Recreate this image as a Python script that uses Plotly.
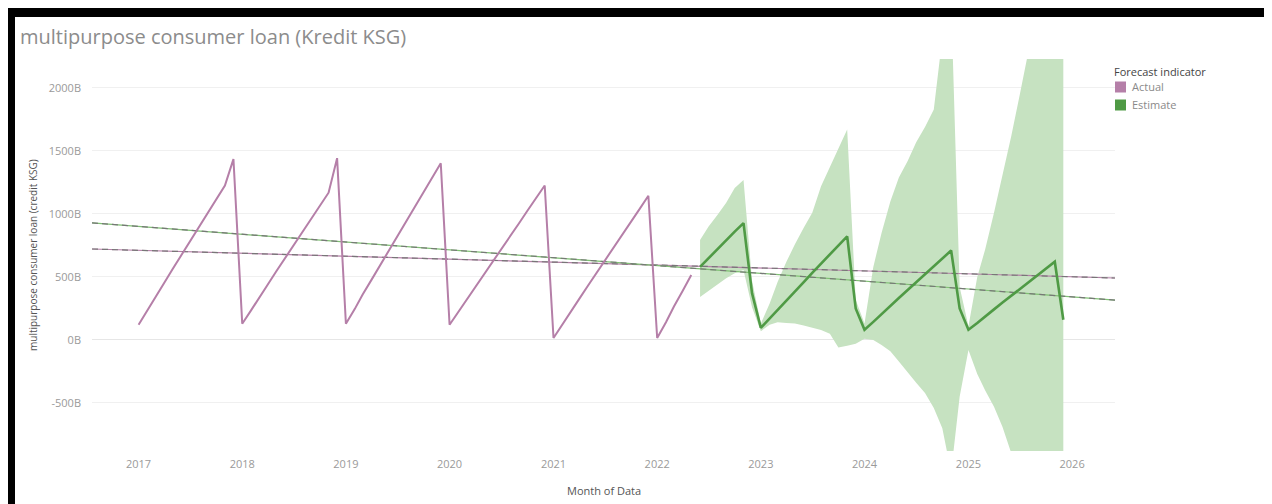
import pandas as pd
import plotly.graph_objects as go

# ---------------- data ----------------
actual_start = "2017-01-01"
actual_values = [
    121, 232, 342, 453, 563, 674, 784, 895, 1005, 1116, 1226, 1435,
    129, 235, 337, 441, 545, 650, 754, 858, 961, 1065, 1169, 1443,
    129, 245, 361, 477, 592, 708, 824, 940, 1056, 1171, 1287, 1403,
    121, 222, 322, 423, 523, 624, 724, 825, 925, 1026, 1126, 1226,
    16, 119, 221, 324, 427, 529, 632, 735, 837, 940, 1043, 1145,
    16, 141, 266, 391, 516,
]

estimate_start = "2022-06-01"
estimate_values = [
    580, 650, 720, 790, 860, 927, 370,
    97, 170, 243, 316, 388, 460, 533, 605, 678, 750, 823, 250,
    81, 144, 207, 270, 333, 396, 459, 522, 585, 648, 710, 250,
    81, 135, 189, 243, 297, 351, 405, 459, 513, 567, 621, 161,
]
estimate_upper = [
    794, 900, 992, 1090, 1206, 1270, 470,
    130, 290, 460, 620, 760, 890, 1010, 1220, 1370, 1510, 1670, 320,
    130, 580, 850, 1100, 1290, 1420, 1570, 1690, 1830, 2400, 2700, 420,
    110, 500, 720, 1010, 1310, 1620, 1950, 2300, 2500, 2700, 2850, 3000,
]
estimate_lower = [
    341, 390, 440, 490, 530, 555, 260,
    70, 120, 140, 135, 130, 115, 100, 80, 50, -60, -45, -30,
    10, 0, -40, -90, -170, -260, -340, -420, -540, -700, -1050, -450,
    -80, -270, -400, -530, -690, -900, -1000, -1100, -1200, -1300, -1400, -1500,
]

trend_dates = ["2016-07-21", "2026-06-01"]
trend_actual = [722, 492]
trend_estimate = [929, 317]

y_tick_values = [-500, 0, 500, 1000, 1500, 2000]
y_tick_labels = ["-500B", "0B", "500B", "1000B", "1500B", "2000B"]

series_names = ["Actual", "Estimate"]

# ---------------- styling ----------------
PURPLE = "#b57fa8"
GREEN = "#4f9a45"
BAND = "#c6e2c1"
FONT = "Open Sans"

actual_dates = pd.date_range(actual_start, periods=len(actual_values), freq="MS")
estimate_dates = pd.date_range(estimate_start, periods=len(estimate_values), freq="MS")

fig = go.Figure()

# forecast band
fig.add_trace(go.Scatter(x=estimate_dates, y=estimate_lower, mode="lines",
                         line=dict(width=0, color=BAND), showlegend=False, hoverinfo="skip"))
fig.add_trace(go.Scatter(x=estimate_dates, y=estimate_upper, mode="lines",
                         line=dict(width=0, color=BAND), fill="tonexty", fillcolor=BAND,
                         showlegend=False, hoverinfo="skip"))

# trend lines (coloured base + grey dashes)
for vals, col in [(trend_actual, PURPLE), (trend_estimate, "#7fc073")]:
    fig.add_trace(go.Scatter(x=trend_dates, y=vals, mode="lines",
                             line=dict(color=col, width=1.2), showlegend=False, hoverinfo="skip"))
    fig.add_trace(go.Scatter(x=trend_dates, y=vals, mode="lines",
                             line=dict(color="#777777", width=1.2, dash="6px,4px"),
                             showlegend=False, hoverinfo="skip"))

# main lines
fig.add_trace(go.Scatter(x=actual_dates, y=actual_values, mode="lines", name=series_names[0],
                         line=dict(color=PURPLE, width=2), showlegend=False))
fig.add_trace(go.Scatter(x=estimate_dates, y=estimate_values, mode="lines", name=series_names[1],
                         line=dict(color=GREEN, width=2.6), showlegend=False))

# page offset (browser body margin)
OFF = 8
W, H = 1264, 496
L, R, T, B = 84, 157, 51, 53
PW, PH = W - L - R, H - T - B


def px(page_x):
    return (page_x - OFF - L) / PW


def py(page_y):
    return (H - B - (page_y - OFF)) / PH


shapes = []
# black frame (page coords)
for x0, x1, y0, y1 in [(8, 15, 8, 504), (8, 1272, 8, 17), (1264, 1272, 8, 504)]:
    shapes.append(dict(type="rect", xref="paper", yref="paper",
                       x0=px(x0), x1=px(x1), y0=py(y1), y1=py(y0),
                       fillcolor="black", line=dict(width=0), layer="above"))

# legend swatches (manual, Tableau style)
legend_cols = [PURPLE, GREEN]
legend_rows = [87, 105]
annotations = [
    dict(text="Forecast indicator", xref="paper", yref="paper", x=px(1112), y=py(71),
         xanchor="left", yanchor="middle", showarrow=False,
         font=dict(size=11, color="#444444")),
]
for name, col, yy in zip(series_names, legend_cols, legend_rows):
    shapes.append(dict(type="rect", xref="paper", yref="paper",
                       x0=px(1115), x1=px(1126), y0=py(yy + 5.5), y1=py(yy - 5.5),
                       fillcolor=col, line=dict(width=0)))
    annotations.append(dict(text=name, xref="paper", yref="paper", x=px(1130), y=py(yy),
                            xanchor="left", yanchor="middle", showarrow=False,
                            font=dict(size=11, color="#8a8a8a")))

annotations += [
    dict(text="Month of Data", xref="paper", yref="paper", x=0.5, y=py(490),
         xanchor="center", yanchor="middle", showarrow=False,
         font=dict(size=11, color="#555555")),
    dict(text="multipurpose consumer loan (credit KSG)", xref="paper", yref="paper",
         x=px(33), y=0.5, xanchor="center", yanchor="middle", textangle=-90,
         showarrow=False, font=dict(size=10, color="#555555")),
]

fig.update_layout(
    width=W, height=H,
    margin=dict(l=L, r=R, t=T, b=B),
    paper_bgcolor="white", plot_bgcolor="white",
    font=dict(family=FONT, color="#888888", size=11),
    title=dict(text="multipurpose consumer loan (Kredit KSG)", x=(20 - OFF) / W, xanchor="left",
               y=1 - (37 - OFF) / H, yanchor="middle",
               font=dict(family=FONT, size=20, color="#8c8c8c")),
    showlegend=False,
    xaxis=dict(type="date", range=["2016-07-21", "2026-06-01"],
               tick0="2017-01-01", dtick="M12", tickformat="%Y",
               showgrid=False, zeroline=False, showline=False, ticks="",
               ticklabelstandoff=5, tickfont=dict(size=11, color="#9a9a9a")),
    yaxis=dict(range=[-881, 2230], tickvals=y_tick_values, ticktext=y_tick_labels,
               showgrid=True, gridcolor="#f0f0f0", gridwidth=1,
               zeroline=True, zerolinecolor="#e6e6e6", zerolinewidth=1,
               showline=False, ticks="", ticklabelstandoff=10,
               tickfont=dict(size=11, color="#9a9a9a")),
    shapes=shapes,
    annotations=annotations,
)

fig.write_html("out.html")
